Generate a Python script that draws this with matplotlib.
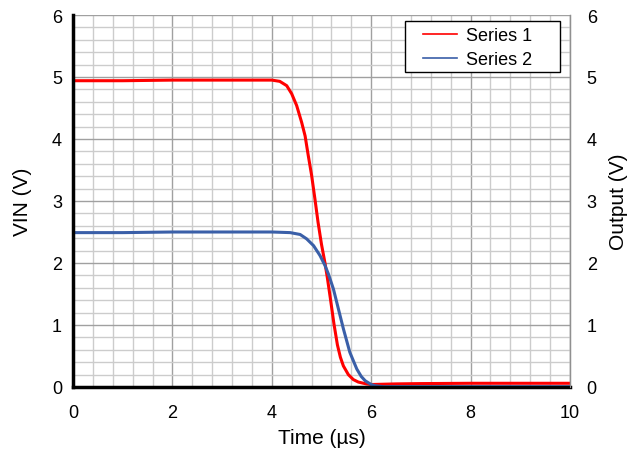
import matplotlib
matplotlib.use("Agg")
import matplotlib.pyplot as plt
from matplotlib.ticker import MultipleLocator
from matplotlib.patches import Rectangle

plt.rcParams['font.family'] = ['Liberation Sans', 'DejaVu Sans']

time_s1 = [0, 1, 2, 3, 4.0, 4.16, 4.30, 4.40, 4.50, 4.60, 4.67, 4.73, 4.80, 4.87, 4.93,
           5.0, 5.07, 5.12, 5.18, 5.25, 5.32, 5.38, 5.44, 5.54, 5.64, 5.74, 5.9, 6.0,
           6.5, 7, 8, 9, 10]
vin_s1 = [4.94, 4.94, 4.95, 4.95, 4.95, 4.93, 4.86, 4.73, 4.54, 4.27, 4.05, 3.75, 3.42, 3.02, 2.66,
          2.30, 2.0, 1.75, 1.42, 1.02, 0.68, 0.48, 0.34, 0.20, 0.12, 0.08, 0.05, 0.04,
          0.05, 0.055, 0.06, 0.06, 0.06]
time_s2 = [0, 1, 2, 3, 4.0, 4.37, 4.57, 4.70, 4.84, 4.97, 5.07, 5.14, 5.24, 5.34, 5.44,
           5.57, 5.71, 5.80, 5.88, 6.0, 6.08, 6.25, 7, 8, 9, 10]
out_s2 = [2.49, 2.49, 2.5, 2.5, 2.5, 2.49, 2.46, 2.39, 2.28, 2.12, 1.96, 1.82, 1.58, 1.26, 0.94,
          0.56, 0.29, 0.17, 0.10, 0.04, 0.02, 0.005, 0.005, 0.005, 0.005, 0.005]

fig = plt.figure(figsize=(6.33, 4.56), dpi=100)
ax = fig.add_axes([73/633, 1-388/456, (570-73)/633, (388-16)/456])

ax.set_xlim(0, 10)
ax.set_ylim(0, 6)
ax.xaxis.set_major_locator(MultipleLocator(2))
ax.xaxis.set_minor_locator(MultipleLocator(0.4))
ax.yaxis.set_major_locator(MultipleLocator(1))
ax.yaxis.set_minor_locator(MultipleLocator(0.2))
ax.grid(which='minor', color='#cccccc', lw=1.0)
ax.grid(which='major', color='#a0a0a0', lw=1.0)
ax.set_axisbelow(True)
ax.tick_params(which='both', length=0, labelsize=13)
ax.tick_params(axis='x', pad=12)
ax.tick_params(axis='y', pad=8)

ax.plot(time_s1, vin_s1, color='#ff0000', lw=2.2, label='Series 1', solid_joinstyle='round')
ax.plot(time_s2, out_s2, color='#3a5fa8', lw=2.2, label='Series 2', solid_joinstyle='round')

ax.spines['top'].set_visible(False)
ax.spines['right'].set_color('#909090')
ax.spines['right'].set_linewidth(1)
ax.spines['left'].set_linewidth(2.5)
ax.spines['bottom'].set_linewidth(2.5)
ax.spines['left'].set_color('black')
ax.spines['bottom'].set_color('black')

ax.set_xlabel('Time (µs)', fontsize=15, labelpad=5)
ax.set_ylabel('VIN (V)', fontsize=15, labelpad=14)

ax2 = ax.twinx()
ax2.set_ylim(0, 6)
ax2.yaxis.set_major_locator(MultipleLocator(1))
ax2.tick_params(length=0, labelsize=13, pad=12)
ax2.set_ylabel('Output (V)', fontsize=15, labelpad=9)
for s in ['top', 'left', 'bottom']:
    ax2.spines[s].set_visible(False)
ax2.spines['right'].set_color('#909090')

# legend frame (Excel-style fixed box)
fx0 = (405 - 73) / 497
fx1 = (560 - 73) / 497
fytop = (388 - 21.5) / 372
fybot = (388 - 73) / 372
frame = Rectangle((fx0, fybot), fx1 - fx0, fytop - fybot, transform=ax.transAxes,
                  facecolor='white', edgecolor='black', lw=1, zorder=5)
ax.add_patch(frame)

leg = ax.legend(loc='upper left', bbox_to_anchor=((423 - 73) / 497, (388 - 28) / 372),
                borderaxespad=0, borderpad=0, fontsize=13, frameon=False,
                handlelength=1.9, handletextpad=0.5, labelspacing=0.4)
leg.set_zorder(6)
for line in leg.get_lines():
    line.set_linewidth(1.2)

fig.savefig('out.png', dpi=100)
